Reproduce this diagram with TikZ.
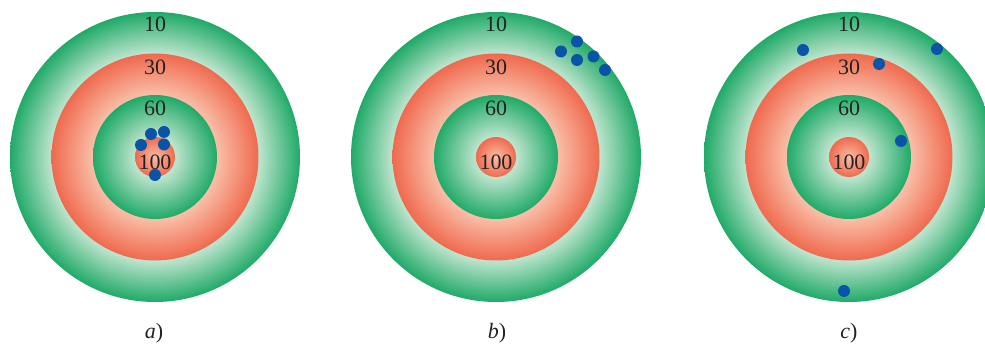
\documentclass[tikz,border=0pt]{standalone}
\usepackage{fontspec}
\setmainfont{Liberation Serif}
\usepackage{tikz}
\usetikzlibrary{positioning}

\definecolor{verdescuro}{RGB}{32,170,104}
\definecolor{verdechiaro}{RGB}{192,229,207}
\definecolor{rossoscuro}{RGB}{239,106,78}
\definecolor{rossochiaro}{RGB}{249,190,168}
\definecolor{puntoblu}{RGB}{10,84,168}
\definecolor{testo}{RGB}{34,34,34}

% sfumature degli anelli (25bp = bordo del cerchio)
\pgfdeclareradialshading{anellodieci}{\pgfpoint{0bp}{0bp}}{color(0bp)=(verdechiaro); color(17.8bp)=(verdechiaro); color(25bp)=(verdescuro); color(50bp)=(verdescuro)}
\pgfdeclareradialshading{anellotrenta}{\pgfpoint{0bp}{0bp}}{color(0bp)=(rossochiaro); color(15bp)=(rossochiaro); color(25bp)=(rossoscuro); color(50bp)=(rossoscuro)}
\pgfdeclareradialshading{anellosessanta}{\pgfpoint{0bp}{0bp}}{color(0bp)=(verdechiaro); color(8bp)=(verdechiaro); color(25bp)=(verdescuro); color(50bp)=(verdescuro)}
\pgfdeclareradialshading{centro}{\pgfpoint{0bp}{0bp}}{color(0bp)=(rossochiaro); color(25bp)=(rossoscuro); color(50bp)=(rossoscuro)}

\tikzset{
  punteggio/.style={font=\fontsize{12.5}{14}\selectfont, text=testo, inner sep=0pt},
  didascalia/.style={font=\fontsize{12.5}{14}\selectfont, text=testo, inner sep=0pt},
  punto/.style={circle, fill=puntoblu, inner sep=0pt, minimum size=0.24cm}
}

\begin{document}
\begin{tikzpicture}[x=0.02cm, y=0.02cm]
  \useasboundingbox (0,0) rectangle (985,344);

  % Bersaglio a)
  \shade[shading=anellodieci] (155,187) circle[radius=145];
  \shade[shading=anellotrenta] (155,187) circle[radius=103.5];
  \shade[shading=anellosessanta] (155,187) circle[radius=62];
  \shade[shading=centro] (155,187) circle[radius=20];
  \node[punteggio] (a10) at (155,320) {10};
  \node[punteggio] (a30) at (155,277) {30};
  \node[punteggio] (a60) at (155,236) {60};
  \node[punteggio] (a100) at (155,182) {100};
  \node[didascalia] (capa) at (154,11) {\textit{a})};

  % Bersaglio b)
  \shade[shading=anellodieci] (496,187) circle[radius=145];
  \shade[shading=anellotrenta] (496,187) circle[radius=103.5];
  \shade[shading=anellosessanta] (496,187) circle[radius=62];
  \shade[shading=centro] (496,187) circle[radius=20];
  \node[punteggio] (b10) at (496,320) {10};
  \node[punteggio] (b30) at (496,277) {30};
  \node[punteggio] (b60) at (496,236) {60};
  \node[punteggio] (b100) at (496,182) {100};
  \node[didascalia] (capb) at (497,11) {\textit{b})};

  % Bersaglio c)
  \shade[shading=anellodieci] (849,187) circle[radius=145];
  \shade[shading=anellotrenta] (849,187) circle[radius=103.5];
  \shade[shading=anellosessanta] (849,187) circle[radius=62];
  \shade[shading=centro] (849,187) circle[radius=20];
  \node[punteggio] (c10) at (849,320) {10};
  \node[punteggio] (c30) at (849,277) {30};
  \node[punteggio] (c60) at (849,236) {60};
  \node[punteggio] (c100) at (849,182) {100};
  \node[didascalia] (capc) at (849,11) {\textit{c})};

  % Colpi: raggruppati e precisi
  \node[punto] (pa1) at (151,210) {};
  \node[punto] (pa2) at (164,212) {};
  \node[punto] (pa3) at (141,199) {};
  \node[punto] (pa4) at (164,199.5) {};
  \node[punto] (pa5) at (155,169) {};

  % Colpi: raggruppati ma fuori centro
  \node[punto] (pb1) at (561,292.5) {};
  \node[punto] (pb2) at (577,302.5) {};
  \node[punto] (pb3) at (577,284) {};
  \node[punto] (pb4) at (593.5,287.5) {};
  \node[punto] (pb5) at (605,274) {};

  % Colpi: sparsi
  \node[punto] (pc1) at (803,294) {};
  \node[punto] (pc2) at (937,295) {};
  \node[punto] (pc3) at (879,280) {};
  \node[punto] (pc4) at (901,203) {};
  \node[punto] (pc5) at (844,53) {};
\end{tikzpicture}
\end{document}
